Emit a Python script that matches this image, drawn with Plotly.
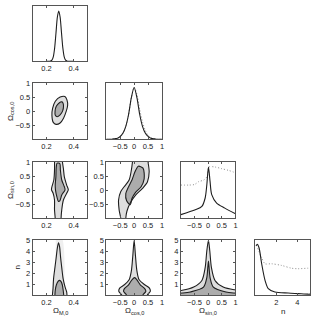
import plotly.graph_objects as go

# ---------------- 1-D marginals ----------------
om_x = [0.20, 0.22, 0.23, 0.24, 0.25, 0.26, 0.27, 0.28, 0.29, 0.30, 0.31, 0.32, 0.33, 0.34, 0.35, 0.36, 0.38, 0.40]
om_p = [0.0, 0.0, 0.005, 0.02, 0.08, 0.24, 0.52, 0.80, 0.91, 0.80, 0.52, 0.24, 0.08, 0.02, 0.005, 0.0, 0.0, 0.0]

cos_x = [-1.0, -0.8, -0.7, -0.6, -0.5, -0.4, -0.3, -0.2, -0.1, 0.0, 0.1, 0.2, 0.3, 0.4, 0.5, 0.6, 0.7, 0.8, 1.0]
cos_p = [0.0, 0.0, 0.01, 0.02, 0.05, 0.11, 0.23, 0.44, 0.74, 0.92, 0.74, 0.44, 0.23, 0.11, 0.05, 0.02, 0.01, 0.0, 0.0]
cos_p_alt = [0.0, 0.0, 0.01, 0.02, 0.05, 0.11, 0.23, 0.44, 0.74, 0.92, 0.80, 0.53, 0.31, 0.16, 0.07, 0.03, 0.01, 0.0, 0.0]

sin_x = [-1.0, -0.47, -0.23, -0.11, -0.05, 0.01, 0.07, 0.13, 0.31, 0.61, 1.0]
sin_p = [0.065, 0.15, 0.21, 0.36, 0.59, 0.91, 0.65, 0.42, 0.27, 0.18, 0.08]
sin_alt_x = [-1.0, -0.7, -0.5, -0.35, -0.16, -0.03, 0.03, 0.26, 0.50, 0.75, 0.93, 1.0]
sin_alt_p = [0.59, 0.59, 0.60, 0.65, 0.68, 0.75, 0.91, 0.91, 0.88, 0.85, 0.82, 0.80]

n_x = [0.05, 0.19, 0.35, 0.60, 0.92, 1.23, 1.86, 3.12, 4.07, 5.0, 5.2]
n_p = [0.89, 0.92, 0.86, 0.57, 0.27, 0.12, 0.06, 0.04, 0.03, 0.02, 0.02]
n_alt_x = [0.22, 0.60, 0.92, 1.54, 2.49, 3.43, 4.07, 5.0, 5.2]
n_alt_p = [0.85, 0.68, 0.57, 0.57, 0.54, 0.49, 0.48, 0.49, 0.49]

# ---------------- 2-D contours (68% inner, 95% outer) ----------------
omcos_out_x = [0.335, 0.350, 0.355, 0.345, 0.325, 0.300, 0.270, 0.250, 0.240, 0.245, 0.265, 0.300, 0.335]
omcos_out_y = [0.52, 0.40, 0.20, 0.00, -0.25, -0.42, -0.47, -0.40, -0.15, 0.10, 0.35, 0.50, 0.52]
omcos_in_x = [0.320, 0.325, 0.318, 0.300, 0.278, 0.265, 0.263, 0.272, 0.295, 0.312, 0.320]
omcos_in_y = [0.30, 0.18, 0.00, -0.13, -0.20, -0.15, 0.00, 0.17, 0.30, 0.33, 0.30]

omsin_out_x = [0.259, 0.259, 0.254, 0.240, 0.237, 0.249, 0.259, 0.259, 0.264, 0.264, 0.307, 0.307, 0.312, 0.324, 0.348, 0.360, 0.348, 0.331, 0.324, 0.317, 0.317]
omsin_out_y = [1.1, 0.71, 0.36, 0.12, 0.01, -0.11, -0.35, -0.70, -1.0, -1.1, -1.1, -1.0, -0.70, -0.35, -0.11, 0.01, 0.18, 0.47, 0.77, 1.0, 1.1]
omsin_in_x = [0.278, 0.271, 0.269, 0.264, 0.266, 0.276, 0.288, 0.298, 0.312, 0.336, 0.331, 0.312, 0.302, 0.298, 0.278]
omsin_in_y = [0.96, 0.77, 0.47, 0.18, 0.01, -0.23, -0.40, -0.38, -0.17, 0.01, 0.12, 0.36, 0.71, 0.94, 0.96]

cossin_out_x = [-0.05, -0.06, -0.10, -0.18, -0.36, -0.48, -0.56, -0.54, -0.48, -0.47, -0.30, -0.30, -0.26, -0.14, 0.06, 0.30, 0.48, 0.54, 0.50, 0.49]
cossin_out_y = [1.1, 1.0, 0.71, 0.36, 0.12, -0.05, -0.35, -0.70, -1.0, -1.1, -1.1, -1.0, -0.75, -0.46, -0.17, 0.06, 0.30, 0.65, 1.0, 1.1]
cossin_in_x = [0.15, 0.32, 0.36, 0.25, 0.05, -0.08, -0.14, -0.27, -0.30, -0.20, -0.07, 0.03, 0.15]
cossin_in_y = [0.85, 0.78, 0.40, 0.12, -0.08, -0.30, -0.52, -0.38, -0.12, 0.12, 0.38, 0.65, 0.85]

omn_out_x = [0.244, 0.244, 0.248, 0.252, 0.262, 0.272, 0.280, 0.288, 0.296, 0.303, 0.312, 0.322, 0.335, 0.348, 0.350, 0.350]
omn_out_y = [-0.2, 0.05, 0.6, 1.5, 2.5, 3.5, 4.3, 4.75, 4.4, 3.5, 2.5, 1.5, 0.8, 0.3, 0.05, -0.2]
omn_in_x = [0.262, 0.262, 0.265, 0.273, 0.285, 0.295, 0.306, 0.316, 0.322, 0.326, 0.326]
omn_in_y = [-0.2, 0.05, 0.5, 0.95, 1.25, 1.35, 1.25, 0.95, 0.5, 0.05, -0.2]
omn_band_x = [0.268, 0.312, 0.312, 0.268]
omn_band_y = [-0.2, -0.2, 5.2, 5.2]

cosn_out_x = [-0.42, -0.45, -0.55, -0.52, -0.35, -0.18, -0.10, -0.05, 0.0, 0.05, 0.10, 0.18, 0.38, 0.55, 0.58, 0.48, 0.46]
cosn_out_y = [-0.2, 0.05, 0.35, 0.65, 0.95, 1.4, 2.2, 3.5, 4.95, 3.5, 2.2, 1.4, 0.95, 0.65, 0.35, 0.05, -0.2]
cosn_in_x = [-0.26, -0.28, -0.38, -0.35, -0.20, -0.08, 0.02, 0.10, 0.22, 0.38, 0.42, 0.32, 0.30]
cosn_in_y = [-0.2, 0.05, 0.35, 0.60, 0.95, 1.4, 1.6, 1.4, 0.95, 0.60, 0.35, 0.05, -0.2]

sinn_out_x = [-1.1, -0.95, -0.53, -0.23, -0.11, -0.05, 0.01, 0.06, 0.12, 0.25, 0.55, 0.95, 1.1]
sinn_out_y = [0.42, 0.45, 0.74, 1.34, 2.5, 4.0, 4.97, 4.0, 2.5, 1.34, 0.74, 0.50, 0.48]
sinn_in_x = [-1.1, -0.95, -0.65, -0.17, -0.05, 0.01, 0.07, 0.19, 0.65, 0.95, 1.1]
sinn_in_y = [0.18, 0.20, 0.30, 0.74, 1.6, 3.1, 1.6, 0.74, 0.30, 0.20, 0.18]

# ---------------- axes / labels ----------------
om_range = [0.1, 0.5]
cos_range = [-1, 1]
sin_range = [-1, 1]
n_range = [0, 5]
n_range_x = [0, 5.2]
om_ticks = [0.2, 0.4]
pm_ticks = [-0.5, 0, 0.5, 1]
n_ticks = [1, 2, 3, 4, 5]
n_ticks_x = [2, 4]

W, H = 314, 317
col_px = [(33, 88), (107, 163), (182, 237), (257, 312)]
row_px = [(2, 58), (80, 137), (160, 217), (239, 295)]

# panel index -> (row, col, xrange, yrange, xticks, yticks)
panels = {
    1: (0, 0, om_range, [0, 1], om_ticks, None),
    2: (1, 0, om_range, cos_range, om_ticks, pm_ticks),
    3: (1, 1, cos_range, [0, 1], pm_ticks, None),
    4: (2, 0, om_range, sin_range, om_ticks, pm_ticks),
    5: (2, 1, cos_range, sin_range, pm_ticks, pm_ticks),
    6: (2, 2, sin_range, [0, 1], pm_ticks, None),
    7: (3, 0, om_range, n_range, om_ticks, n_ticks),
    8: (3, 1, cos_range, n_range, pm_ticks, n_ticks),
    9: (3, 2, sin_range, n_range, pm_ticks, n_ticks),
    10: (3, 3, n_range_x, [0, 1], n_ticks_x, None),
}

fig = go.Figure()
FONT = "Liberation Sans, Arial, sans-serif"
LINE = "#1e1e1e"
OUT_FILL = "#dedede"
IN_FILL = "#acacac"
BAND_FILL = "#efefef"
DOT = "#8c8c8c"


def refs(i):
    return ("x" if i == 1 else f"x{i}"), ("y" if i == 1 else f"y{i}")


def add_line(i, x, y, dash="solid", color=LINE, width=1.1, shape="spline"):
    xr, yr = refs(i)
    fig.add_trace(go.Scatter(x=x, y=y, mode="lines", xaxis=xr, yaxis=yr,
                             line=dict(color=color, width=width, dash=dash, shape=shape, smoothing=0.8),
                             hoverinfo="skip", showlegend=False))


def add_fill(i, x, y, color):
    xr, yr = refs(i)
    fig.add_trace(go.Scatter(x=x, y=y, mode="lines", xaxis=xr, yaxis=yr, fill="toself",
                             fillcolor=color, line=dict(width=0, shape="spline", smoothing=0.8),
                             hoverinfo="skip", showlegend=False))


# diagonals
add_line(1, om_x, om_p)
add_line(3, cos_x, cos_p_alt, dash="1px,2px", color=DOT, width=1)
add_line(3, cos_x, cos_p)
add_line(6, sin_alt_x, sin_alt_p, dash="1px,2px", color=DOT, width=1)
add_line(6, sin_x, sin_p)
add_line(10, n_alt_x, n_alt_p, dash="1px,2px", color=DOT, width=1)
add_line(10, n_x, n_p)

# 2-D panels
add_fill(2, omcos_out_x, omcos_out_y, OUT_FILL)
add_fill(2, omcos_in_x, omcos_in_y, IN_FILL)
add_line(2, omcos_out_x, omcos_out_y)
add_line(2, omcos_in_x, omcos_in_y)

add_fill(4, omsin_out_x, omsin_out_y, OUT_FILL)
add_fill(4, omsin_in_x, omsin_in_y, IN_FILL)
add_line(4, omsin_out_x, omsin_out_y)
add_line(4, omsin_in_x, omsin_in_y)

add_fill(5, cossin_out_x, cossin_out_y, OUT_FILL)
add_fill(5, cossin_in_x, cossin_in_y, IN_FILL)
add_line(5, cossin_out_x, cossin_out_y)
add_line(5, cossin_in_x, cossin_in_y)

add_fill(7, omn_band_x, omn_band_y, BAND_FILL)
add_fill(7, omn_out_x, omn_out_y, OUT_FILL)
add_fill(7, omn_in_x, omn_in_y, IN_FILL)
add_line(7, omn_out_x, omn_out_y)
add_line(7, omn_in_x, omn_in_y)

add_fill(8, cosn_out_x, cosn_out_y, OUT_FILL)
add_fill(8, cosn_in_x, cosn_in_y, IN_FILL)
add_line(8, cosn_out_x, cosn_out_y)
add_line(8, cosn_in_x, cosn_in_y)

add_fill(9, sinn_out_x + [1.1, -1.1], sinn_out_y + [-0.2, -0.2], OUT_FILL)
add_fill(9, sinn_in_x + [1.1, -1.1], sinn_in_y + [-0.2, -0.2], IN_FILL)
add_line(9, sinn_out_x, sinn_out_y)
add_line(9, sinn_in_x, sinn_in_y)

layout = dict(width=W, height=H, margin=dict(l=0, r=0, t=0, b=0),
              paper_bgcolor="white", plot_bgcolor="white", showlegend=False,
              font=dict(family=FONT, size=7.5, color="#222"))

for i, (r, c, xrg, yrg, xt, yt) in panels.items():
    xl, xr_ = col_px[c]
    yt_px, yb_px = row_px[r]
    xname = "xaxis" if i == 1 else f"xaxis{i}"
    yname = "yaxis" if i == 1 else f"yaxis{i}"
    xref, yref = refs(i)
    common = dict(showline=True, mirror="ticks", linecolor="#555", linewidth=1,
                  ticks="inside", ticklen=2, tickcolor="#555", showgrid=False,
                  zeroline=False, tickfont=dict(size=7.5, family=FONT, color="#222"),
                  fixedrange=True)
    layout[xname] = dict(common, domain=[xl / W, xr_ / W], range=xrg, anchor=yref,
                         tickmode="array", tickvals=xt,
                         ticktext=[("%g" % v).replace("-", "\u2212") for v in xt])
    ydict = dict(common, domain=[1 - yb_px / H, 1 - yt_px / H], range=yrg, anchor=xref)
    if yt is None:
        ydict.update(tickmode="array", tickvals=[], showticklabels=False)
    else:
        ydict.update(tickmode="array", tickvals=yt,
                     ticktext=[("%g" % v).replace("-", "\u2212") for v in yt])
    layout[yname] = ydict

fig.update_layout(**layout)

# axis titles as annotations
x_titles = ["Ω<sub>M,0</sub>", "Ω<sub>cos,0</sub>", "Ω<sub>sin,0</sub>", "n"]
y_titles = [("Ω<sub>cos,0</sub>", 1), ("Ω<sub>sin,0</sub>", 2), ("n", 3)]
for c, t in enumerate(x_titles):
    xl, xr_ = col_px[c]
    fig.add_annotation(text=t, x=(xl + xr_) / 2 / W, y=1 - 311 / H, xref="paper", yref="paper",
                       showarrow=False, font=dict(size=8, family=FONT, color="#222"),
                       xanchor="center", yanchor="middle")
for t, r in y_titles:
    yt_px, yb_px = row_px[r]
    xpos = 18 if t == "n" else 11
    fig.add_annotation(text=t, x=xpos / W, y=1 - (yt_px + yb_px) / 2 / H, xref="paper", yref="paper",
                       showarrow=False, textangle=-90, font=dict(size=8, family=FONT, color="#222"),
                       xanchor="center", yanchor="middle")

fig.write_html("out.html", config={"displayModeBar": False},
               post_script="document.body.style.margin='0px';document.body.style.overflow='hidden';")
